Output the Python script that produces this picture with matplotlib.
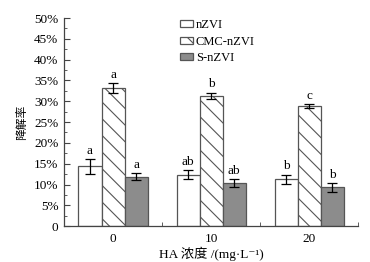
import numpy as np
import matplotlib.pyplot as plt

plt.rcParams['font.family'] = ['Liberation Serif', 'Noto Sans CJK SC', 'DejaVu Serif']
plt.rcParams['hatch.linewidth'] = 0.8

groups = ['0', '10', '20']
series = ['nZVI', 'CMC-nZVI', 'S-nZVI']
nzvi = [14.4, 12.4, 11.3]
cmc = [33.2, 31.3, 28.9]
snzvi = [11.9, 10.3, 9.3]
nzvi_err = [1.8, 1.1, 1.1]
cmc_err = [1.1, 0.8, 0.5]
snzvi_err = [0.9, 1.0, 1.0]
letters = [['a', 'ab', 'b'], ['a', 'b', 'c'], ['a', 'ab', 'b']]

fig = plt.figure(figsize=(3.7, 2.62), dpi=100)
ax = fig.add_axes([0.173, 0.137, 0.795, 0.794])

x = np.arange(len(groups))
w = 0.235
vals = [nzvi, cmc, snzvi]
errs = [nzvi_err, cmc_err, snzvi_err]
faces = ['white', 'white', '#8c8c8c']
hatches = [None, '\\\\', None]

for i in range(3):
    xs = x + (i - 1) * w
    ax.bar(xs, vals[i], w, color=faces[i], edgecolor='#555555', linewidth=0.9,
           hatch=hatches[i], label=series[i], zorder=2)
    ax.errorbar(xs, vals[i], yerr=errs[i], fmt='none', ecolor='black',
                elinewidth=0.9, capsize=3.5, capthick=0.9, zorder=3)
    for j in range(3):
        ax.text(xs[j], vals[i][j] + errs[i][j] + 0.5, letters[i][j],
                ha='center', va='bottom', fontsize=9.5)

ax.set_xlim(-0.5, 2.5)
ax.set_ylim(0, 50)
ax.set_xticks(x)
ax.set_xticklabels(groups)
ax.set_xticks([0.5, 1.5, 2.5], minor=True)
ax.set_yticks(np.arange(0, 51, 5))
ax.set_yticklabels(['0'] + [f'{v}%' for v in range(5, 51, 5)])
ax.set_yticks(np.arange(0, 50.1, 2.5), minor=True)
ax.tick_params(axis='both', which='both', direction='in', labelsize=9.5,
               color='#444444')
ax.tick_params(axis='y', which='major', length=4, pad=4)
ax.tick_params(axis='y', which='minor', length=2.5)
ax.tick_params(axis='x', which='major', length=0, pad=5)
ax.tick_params(axis='x', which='minor', length=3)

for s in ['top', 'right']:
    ax.spines[s].set_visible(False)
for s in ['left', 'bottom']:
    ax.spines[s].set_color('#444444')
    ax.spines[s].set_linewidth(0.9)

ax.set_ylabel('降解率', fontsize=8.5, labelpad=4)
ax.set_xlabel('HA 浓度 /(mg·L⁻¹)', fontsize=9.5, labelpad=1)

ax.legend(loc='upper left', bbox_to_anchor=(0.47, 0.952),
          bbox_transform=fig.transFigure, frameon=False, fontsize=9,
          handlelength=1.0, handleheight=0.5, handletextpad=0.25,
          labelspacing=0.38, borderpad=0)

fig.savefig('out.png', dpi=100)
